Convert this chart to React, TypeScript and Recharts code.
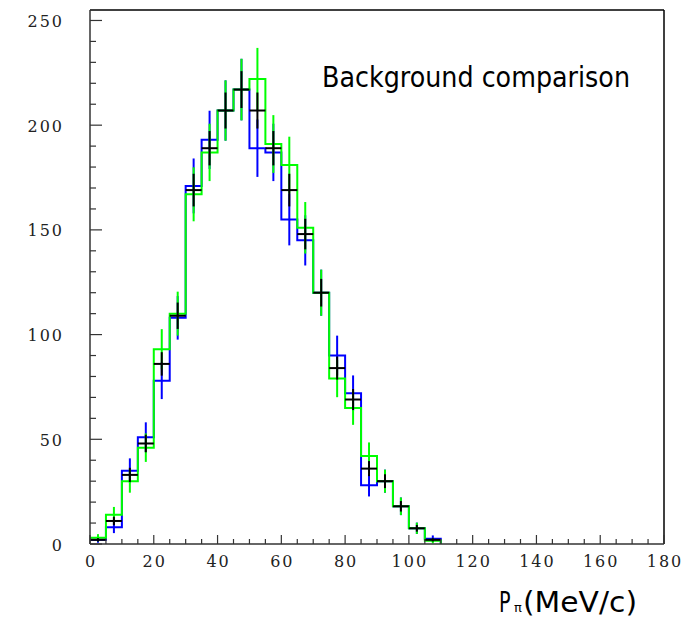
import React from 'react';
import { ComposedChart, Line, Scatter, ErrorBar, XAxis, YAxis, ReferenceLine } from 'recharts';

const BIN_WIDTH = 5;
const binLow = [0, 5, 10, 15, 20, 25, 30, 35, 40, 45, 50, 55, 60, 65, 70, 75, 80, 85, 90, 95, 100, 105];

const blueCounts = [2, 8, 35, 51, 78, 108, 171, 193, 207, 217, 189, 187, 155, 145, 120, 90, 72, 28, 30, 18, 7.5, 2.5];
const blueErrors = [1.4, 2.8, 5.9, 7.1, 8.8, 10.4, 13.1, 13.9, 14.4, 14.7, 13.7, 13.7, 12.4, 12.0, 11.0, 9.5, 8.5, 5.3, 5.5, 4.2, 2.7, 1.6];

const greenCounts = [3, 14, 30, 46, 93, 110, 167, 187, 207, 217, 222, 191, 181, 151, 120, 79, 65, 42, 30, 18, 7.5, 1.5];
const greenErrors = [1.7, 3.7, 5.5, 6.8, 9.6, 10.5, 12.9, 13.7, 14.4, 14.7, 14.9, 13.8, 13.5, 12.3, 11.0, 8.9, 8.1, 6.5, 5.5, 4.2, 2.7, 1.2];

const blackCounts = [2, 11, 33, 48, 86, 109, 169, 189, 207, 217, 207, 189, 169, 148, 120, 84, 69, 36, 30, 18, 7.5, 2];
const blackErrors = [0.8, 2.0, 3.4, 4.2, 5.6, 6.3, 7.8, 8.2, 8.6, 8.8, 8.6, 8.2, 7.8, 7.3, 6.6, 5.5, 5.0, 3.6, 3.3, 2.5, 1.6, 0.8];

const xTicks = [0, 5, 10, 15, 20, 25, 30, 35, 40, 45, 50, 55, 60, 65, 70, 75, 80, 85, 90, 95, 100, 105, 110, 115, 120, 125, 130, 135, 140, 145, 150, 155, 160, 165, 170, 175, 180];
const xTickLabels = [0, 20, 40, 60, 80, 100, 120, 140, 160, 180];
const yTicks = [0, 10, 20, 30, 40, 50, 60, 70, 80, 90, 100, 110, 120, 130, 140, 150, 160, 170, 180, 190, 200, 210, 220, 230, 240, 250];
const yTickLabels = [0, 50, 100, 150, 200, 250];

const X_MAX = 180;
const Y_MAX = 255;

const stepData = (counts: number[]) => {
  const pts = binLow.map((x, i) => ({ x, y: counts[i] }));
  pts.push({ x: binLow[binLow.length - 1] + BIN_WIDTH, y: 0 });
  return pts;
};

const pointData = (counts: number[], errs: number[]) =>
  binLow.map((x, i) => ({ x: x + BIN_WIDTH / 2, y: counts[i], ey: errs[i], ex: BIN_WIDTH / 2 }));

const blueSteps = stepData(blueCounts);
const greenSteps = stepData(greenCounts);
const bluePts = pointData(blueCounts, blueErrors);
const greenPts = pointData(greenCounts, greenErrors);
const blackPts = pointData(blackCounts, blackErrors);

const TICK_FONT = '"DejaVu Serif", serif';
const LABEL_FONT = '"DejaVu Sans", sans-serif';
const AXIS_COLOR = '#333';

const XTick = (props: any) => {
  const { x, y, payload } = props;
  const v = payload.value;
  const major = xTickLabels.includes(v);
  return (
    <g>
      <line x1={x} y1={y} x2={x} y2={y - (major ? 9 : 5)} stroke={AXIS_COLOR} strokeWidth={1.2} />
      {major && (
        <text x={x + 1} y={y + 23} textAnchor="middle" fontFamily={TICK_FONT} fontSize={16} letterSpacing={2} fill="#222">
          {v}
        </text>
      )}
    </g>
  );
};

const YTick = (props: any) => {
  const { x, y, payload } = props;
  const v = payload.value;
  const major = yTickLabels.includes(v);
  return (
    <g>
      <line x1={x} y1={y} x2={x + (major ? 12 : 6)} y2={y} stroke={AXIS_COLOR} strokeWidth={1.2} />
      {major && (
        <text x={x - 26} y={y + 6.5} textAnchor="end" fontFamily={TICK_FONT} fontSize={16} letterSpacing={2} fill="#222">
          {v}
        </text>
      )}
    </g>
  );
};

const noShape = () => <g />;

export default function App() {
  return (
    <div style={{ position: 'absolute', left: 0, top: 0, width: 690, height: 620, background: '#fff' }}>
      <ComposedChart width={690} height={620} margin={{ top: 10, right: 26, left: 0, bottom: 0 }}>
        <XAxis
          dataKey="x"
          type="number"
          domain={[0, X_MAX]}
          allowDataOverflow
          ticks={xTicks}
          interval={0}
          tick={<XTick />}
          tickLine={false}
          tickSize={0}
          tickMargin={0}
          height={76}
          axisLine={{ stroke: AXIS_COLOR, strokeWidth: 1.5 }}
        />
        <YAxis
          dataKey="y"
          type="number"
          domain={[0, Y_MAX]}
          allowDataOverflow
          ticks={yTicks}
          interval={0}
          tick={<YTick />}
          tickLine={false}
          tickSize={0}
          tickMargin={0}
          width={90}
          axisLine={{ stroke: AXIS_COLOR, strokeWidth: 1.5 }}
        />
        <ReferenceLine y={Y_MAX} stroke="#000" strokeWidth={1.5} />
        <ReferenceLine x={X_MAX} stroke="#000" strokeWidth={1.5} />

        <Line data={blueSteps} dataKey="y" type="stepAfter" stroke="#0000ff" strokeWidth={2} dot={false} isAnimationActive={false} />
        <Scatter data={bluePts} shape={noShape} isAnimationActive={false}>
          <ErrorBar dataKey="ey" direction="y" width={0} stroke="#0000ff" strokeWidth={2} isAnimationActive={false} />
        </Scatter>

        <Line data={greenSteps} dataKey="y" type="stepAfter" stroke="#00ff00" strokeWidth={2} dot={false} isAnimationActive={false} />
        <Scatter data={greenPts} shape={noShape} isAnimationActive={false}>
          <ErrorBar dataKey="ey" direction="y" width={0} stroke="#00ff00" strokeWidth={2} isAnimationActive={false} />
        </Scatter>

        <Scatter data={blackPts} shape={noShape} isAnimationActive={false}>
          <ErrorBar dataKey="ey" direction="y" width={0} stroke="#000" strokeWidth={2} isAnimationActive={false} />
          <ErrorBar dataKey="ex" direction="x" width={0} stroke="#000" strokeWidth={2} isAnimationActive={false} />
        </Scatter>
      </ComposedChart>
      <svg width={690} height={620} style={{ position: 'absolute', left: 0, top: 0, pointerEvents: 'none' }}>
        <text x={322} y={87} fontFamily={LABEL_FONT} fontSize={28} textLength={308} lengthAdjust="spacingAndGlyphs" fill="#000">
          Background comparison
        </text>
        <text transform="translate(499,612) scale(0.66,1)" fontFamily={LABEL_FONT} fontSize={29} fill="#000">
          P
        </text>
        <text x={514} y={612} fontFamily={LABEL_FONT} fontSize={13} fill="#000">
          π
        </text>
        <text x={523} y={612} fontFamily={LABEL_FONT} fontSize={29} textLength={114} lengthAdjust="spacingAndGlyphs" fill="#000">
          (MeV/c)
        </text>
      </svg>
    </div>
  );
}
